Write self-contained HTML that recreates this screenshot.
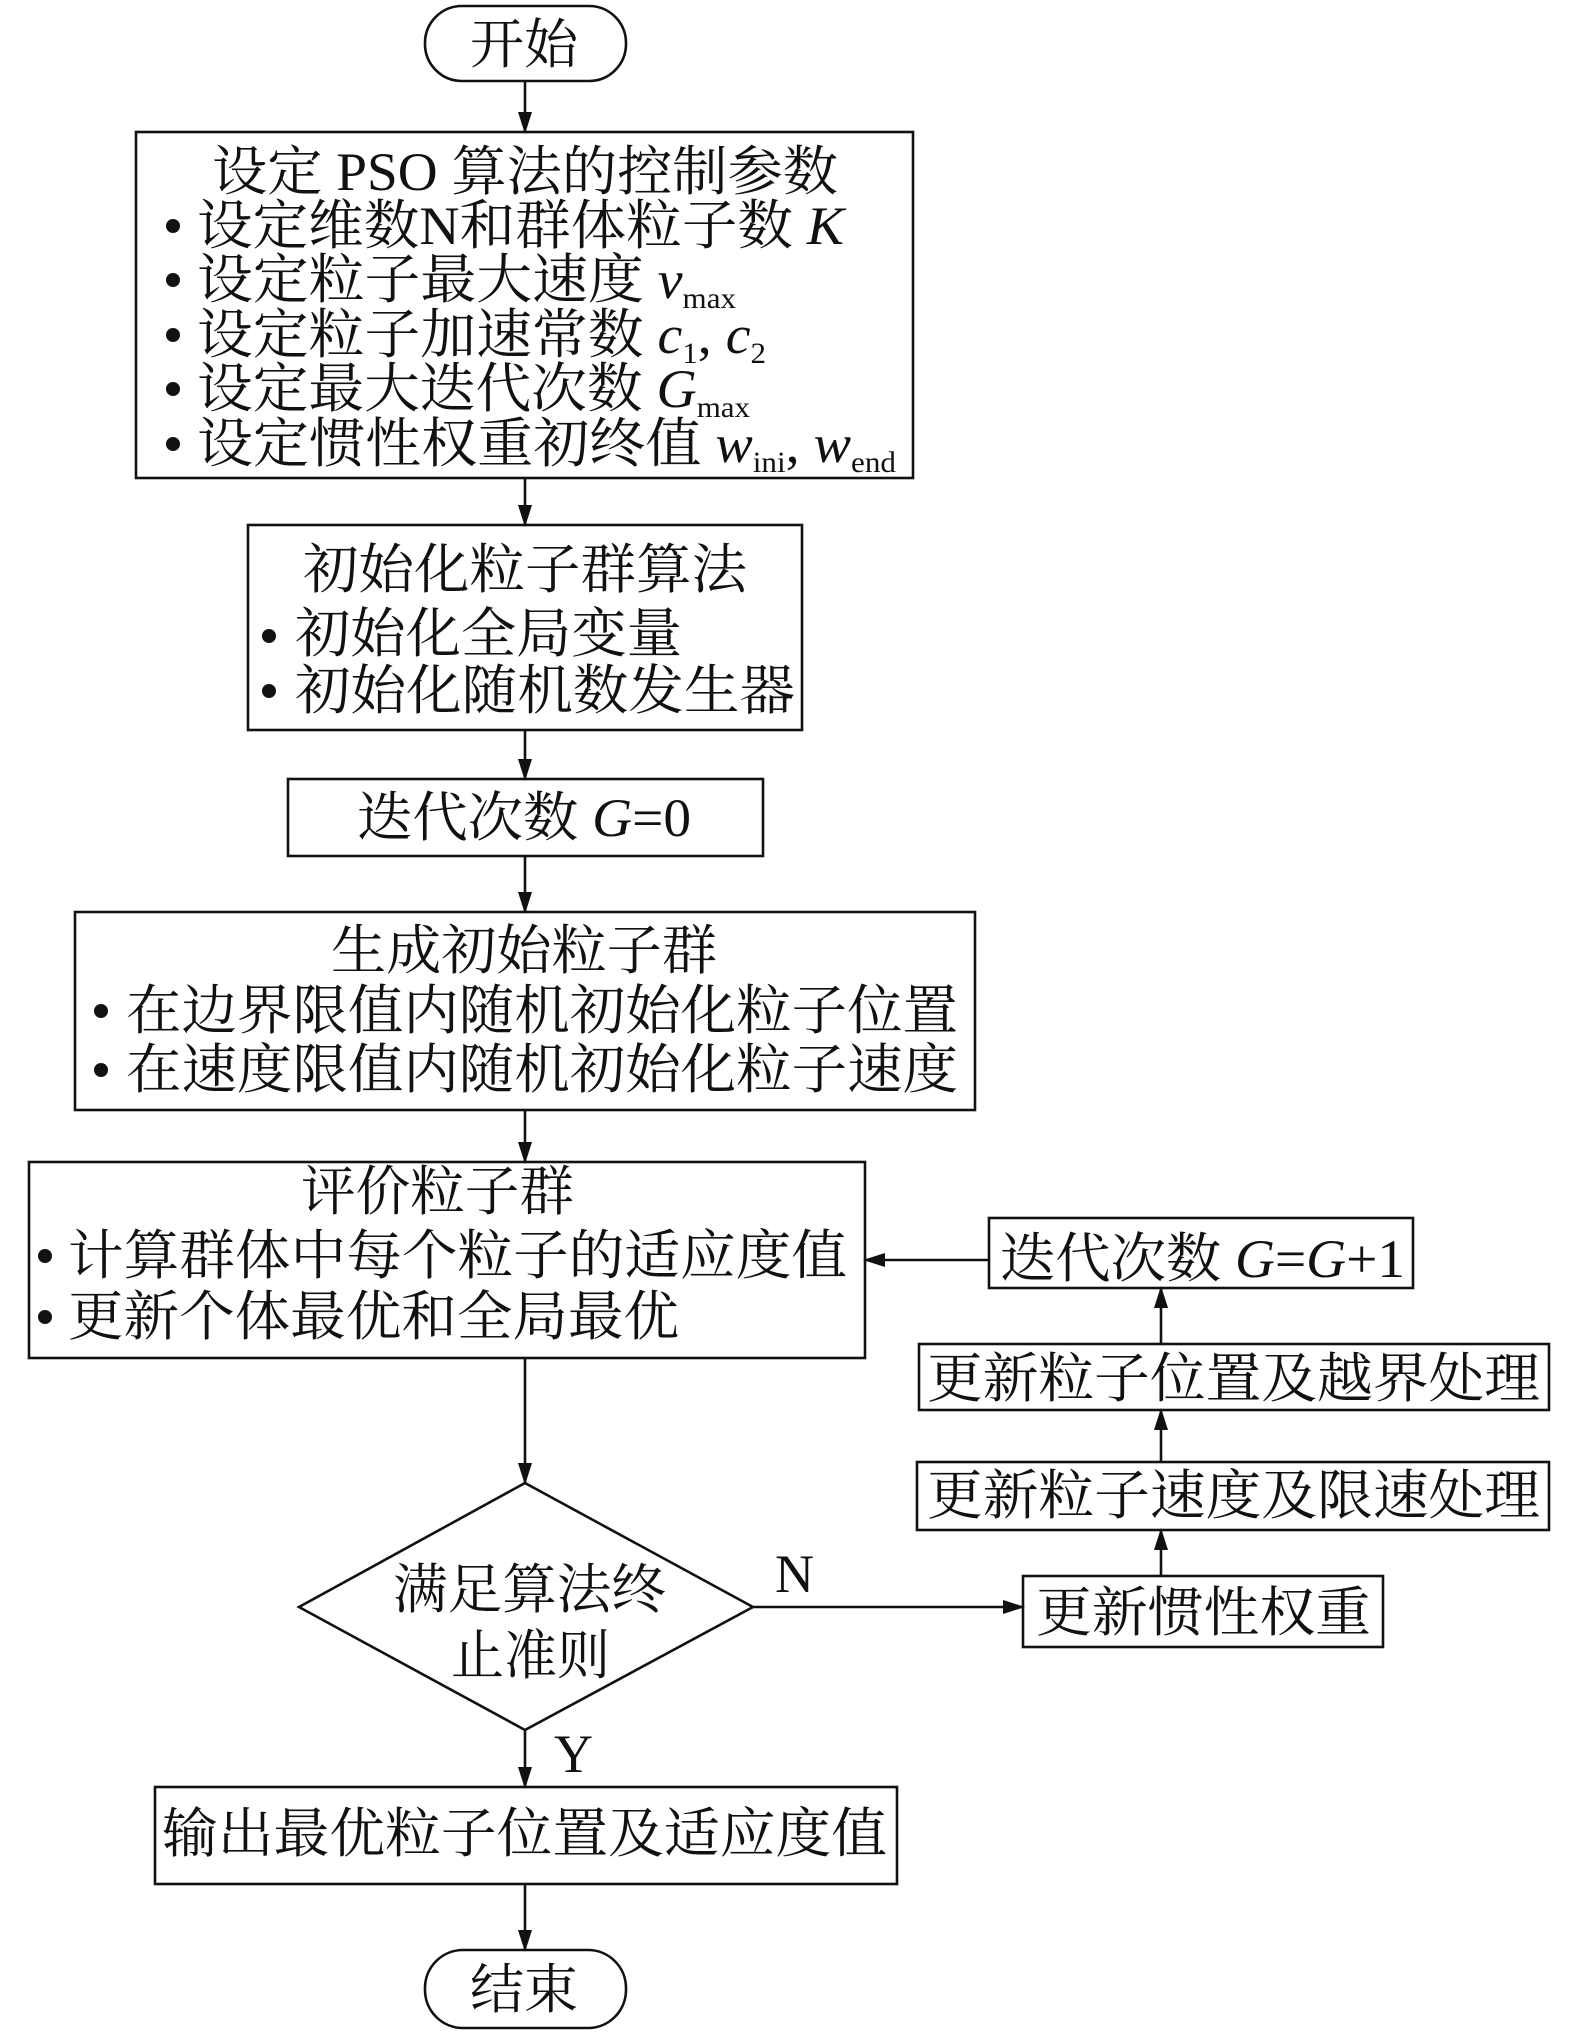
<!DOCTYPE html>
<html><head><meta charset="utf-8"><style>
html,body{margin:0;padding:0;background:#fff}
svg{display:block}
text{font-family:"Liberation Serif","Noto Serif CJK SC",serif;fill:#111}
</style></head><body>
<svg width="1575" height="2033" viewBox="0 0 1575 2033" xmlns="http://www.w3.org/2000/svg">
<defs><marker id="a" markerWidth="22" markerHeight="14" refX="20" refY="7" orient="auto" markerUnits="userSpaceOnUse"><path d="M0,0 L22,7 L0,14 Z" fill="#111"/></marker></defs>
<g fill="none" stroke="#111" stroke-width="2.6">
<rect x="425" y="6" width="201" height="75" rx="37"/>
<rect x="136" y="132" width="777" height="346"/>
<rect x="248" y="525" width="554" height="205"/>
<rect x="288" y="779" width="475" height="77"/>
<rect x="75" y="912" width="900" height="198"/>
<rect x="29" y="1162" width="836" height="196"/>
<polygon points="525,1483 753,1607 525,1730 299,1607"/>
<rect x="155" y="1787" width="742" height="97"/>
<rect x="425" y="1950" width="201" height="78" rx="38"/>
<rect x="989" y="1218" width="424" height="70"/>
<rect x="919" y="1344" width="630" height="66"/>
<rect x="917" y="1462" width="632" height="68"/>
<rect x="1023" y="1576" width="360" height="71"/>
</g>
<g stroke="#111" stroke-width="2.6" marker-end="url(#a)">
<line x1="525" y1="81" x2="525" y2="132"/>
<line x1="525" y1="478" x2="525" y2="525"/>
<line x1="525" y1="730" x2="525" y2="779"/>
<line x1="525" y1="856" x2="525" y2="912"/>
<line x1="525" y1="1110" x2="525" y2="1162"/>
<line x1="525" y1="1358" x2="525" y2="1483"/>
<line x1="525" y1="1730" x2="525" y2="1787"/>
<line x1="525" y1="1884" x2="525" y2="1950"/>
<line x1="753" y1="1607" x2="1023" y2="1607"/>
<line x1="1161" y1="1576" x2="1161" y2="1530"/>
<line x1="1161" y1="1462" x2="1161" y2="1410"/>
<line x1="1161" y1="1344" x2="1161" y2="1288"/>
<line x1="989" y1="1260" x2="865" y2="1260"/>
</g>
<g fill="#111">
<circle cx="173" cy="226" r="7"/><circle cx="173" cy="280" r="7"/><circle cx="173" cy="335" r="7"/><circle cx="173" cy="389" r="7"/><circle cx="173" cy="444" r="7"/>
<circle cx="269" cy="636" r="7"/><circle cx="269" cy="691" r="7"/>
<circle cx="101" cy="1011" r="7"/><circle cx="101" cy="1070" r="7"/>
<circle cx="45" cy="1256" r="7"/><circle cx="45" cy="1317" r="7"/>
</g>
<g font-size="54">
<text x="470" y="63" textLength="108" lengthAdjust="spacingAndGlyphs">开始</text>
<text x="212" y="190" textLength="626" lengthAdjust="spacingAndGlyphs">设定 PSO 算法的控制参数</text>
<text x="197" y="244" textLength="647" lengthAdjust="spacingAndGlyphs">设定维数N和群体粒子数 <tspan font-style="italic">K</tspan></text>
<text x="197" y="298" textLength="539" lengthAdjust="spacingAndGlyphs">设定粒子最大速度 <tspan font-style="italic">v</tspan><tspan font-size="30" dy="10">max</tspan></text>
<text x="197" y="353" textLength="569" lengthAdjust="spacingAndGlyphs">设定粒子加速常数 <tspan font-style="italic">c</tspan><tspan font-size="30" dy="10">1</tspan><tspan dy="-10">, </tspan><tspan font-style="italic">c</tspan><tspan font-size="30" dy="10">2</tspan></text>
<text x="197" y="407" textLength="553" lengthAdjust="spacingAndGlyphs">设定最大迭代次数 <tspan font-style="italic">G</tspan><tspan font-size="30" dy="10">max</tspan></text>
<text x="197" y="462" textLength="699" lengthAdjust="spacingAndGlyphs">设定惯性权重初终值 <tspan font-style="italic">w</tspan><tspan font-size="30" dy="10">ini</tspan><tspan dy="-10">, </tspan><tspan font-style="italic">w</tspan><tspan font-size="30" dy="10">end</tspan></text>
<text x="303" y="588" textLength="444" lengthAdjust="spacingAndGlyphs">初始化粒子群算法</text>
<text x="295" y="652" textLength="387" lengthAdjust="spacingAndGlyphs">初始化全局变量</text>
<text x="295" y="709" textLength="500" lengthAdjust="spacingAndGlyphs">初始化随机数发生器</text>
<text x="357" y="836" textLength="334" lengthAdjust="spacingAndGlyphs">迭代次数 <tspan font-style="italic">G</tspan>=0</text>
<text x="331" y="969" textLength="386" lengthAdjust="spacingAndGlyphs">生成初始粒子群</text>
<text x="126" y="1029" textLength="832" lengthAdjust="spacingAndGlyphs">在边界限值内随机初始化粒子位置</text>
<text x="126" y="1088" textLength="832" lengthAdjust="spacingAndGlyphs">在速度限值内随机初始化粒子速度</text>
<text x="301" y="1210" textLength="273" lengthAdjust="spacingAndGlyphs">评价粒子群</text>
<text x="68" y="1274" textLength="779" lengthAdjust="spacingAndGlyphs">计算群体中每个粒子的适应度值</text>
<text x="68" y="1335" textLength="611" lengthAdjust="spacingAndGlyphs">更新个体最优和全局最优</text>
<text x="393" y="1608" textLength="273" lengthAdjust="spacingAndGlyphs">满足算法终</text>
<text x="451" y="1674" textLength="159" lengthAdjust="spacingAndGlyphs">止准则</text>
<text x="162" y="1852" textLength="725" lengthAdjust="spacingAndGlyphs">输出最优粒子位置及适应度值</text>
<text x="470" y="2008" textLength="108" lengthAdjust="spacingAndGlyphs">结束</text>
<text x="1000" y="1277" textLength="405" lengthAdjust="spacingAndGlyphs">迭代次数 <tspan font-style="italic">G</tspan>=<tspan font-style="italic">G</tspan>+1</text>
<text x="927" y="1397" textLength="613" lengthAdjust="spacingAndGlyphs">更新粒子位置及越界处理</text>
<text x="927" y="1514" textLength="613" lengthAdjust="spacingAndGlyphs">更新粒子速度及限速处理</text>
<text x="1036" y="1631" textLength="335" lengthAdjust="spacingAndGlyphs">更新惯性权重</text>
<text x="775" y="1592">N</text>
<text x="554" y="1772">Y</text>
</g>
</svg>
</body></html>
